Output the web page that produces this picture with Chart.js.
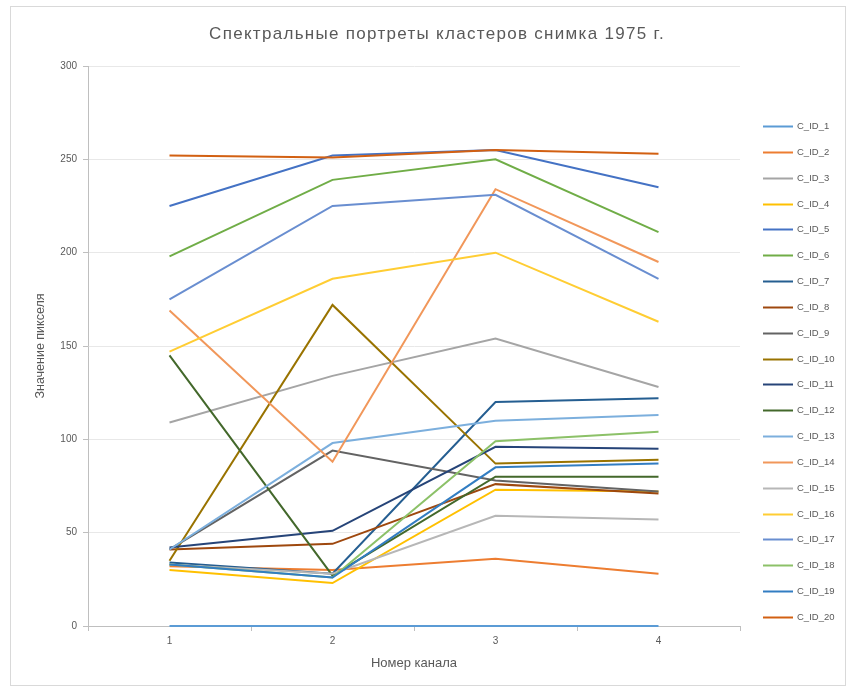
<!DOCTYPE html>
<html lang="ru">
<head>
<meta charset="utf-8">
<title>Спектральные портреты кластеров снимка 1975 г.</title>
<script src="https://cdn.jsdelivr.net/npm/chart.js@4/dist/chart.umd.min.js"></script>
<style>
  html, body { margin: 0; padding: 0; background: #ffffff; }
  #wrap { position: relative; width: 851px; height: 691px; }
</style>
</head>
<body>
<div id="wrap"><canvas id="chart" width="851" height="691"></canvas></div>
<script>
// Номера каналов и средние значения пикселей кластеров по каналам
const channels = ['1', '2', '3', '4'];
const yTicks = [0, 50, 100, 150, 200, 250, 300];

const C_ID_1  = [0, 0, 0, 0];
const C_ID_2  = [32, 30, 36, 28];
const C_ID_3  = [109, 134, 154, 128];
const C_ID_4  = [30, 23, 73, 72];
const C_ID_5  = [225, 252, 255, 235];
const C_ID_6  = [198, 239, 250, 211];
const C_ID_7  = [34, 28, 120, 122];
const C_ID_8  = [41, 44, 76, 71];
const C_ID_9  = [41, 94, 78, 72];
const C_ID_10 = [35, 172, 87, 89];
const C_ID_11 = [42, 51, 96, 95];
const C_ID_12 = [145, 27, 80, 80];
const C_ID_13 = [41, 98, 110, 113];
const C_ID_14 = [169, 88, 234, 195];
const C_ID_15 = [33, 28, 59, 57];
const C_ID_16 = [147, 186, 200, 163];
const C_ID_17 = [175, 225, 231, 186];
const C_ID_18 = [33, 26, 99, 104];
const C_ID_19 = [33, 26, 85, 87];
const C_ID_20 = [252, 251, 255, 253];

const seriesNames = ['C_ID_1','C_ID_2','C_ID_3','C_ID_4','C_ID_5','C_ID_6','C_ID_7','C_ID_8','C_ID_9','C_ID_10',
                     'C_ID_11','C_ID_12','C_ID_13','C_ID_14','C_ID_15','C_ID_16','C_ID_17','C_ID_18','C_ID_19','C_ID_20'];
const seriesValues = [C_ID_1, C_ID_2, C_ID_3, C_ID_4, C_ID_5, C_ID_6, C_ID_7, C_ID_8, C_ID_9, C_ID_10,
                      C_ID_11, C_ID_12, C_ID_13, C_ID_14, C_ID_15, C_ID_16, C_ID_17, C_ID_18, C_ID_19, C_ID_20];
const seriesColors = ['#5B9BD5','#ED7D31','#A5A5A5','#FFC000','#4472C4','#70AD47','#255E91','#9E480E','#636363','#997300',
                      '#264478','#43682B','#7CAFDD','#F1975A','#B7B7B7','#FFCD33','#698ED0','#8CC168','#327DC2','#D26012'];

const TEXT = '#595959';
const FONT = "'Liberation Sans', 'DejaVu Sans', sans-serif";

const datasets = seriesNames.map((name, i) => ({
  label: name,
  data: seriesValues[i],
  borderColor: seriesColors[i],
  backgroundColor: seriesColors[i],
  borderWidth: 2,
  pointRadius: 0,
  pointHoverRadius: 0,
  tension: 0,
  fill: false,
  clip: false,
  order: seriesNames.length - i   // later series are painted over earlier ones
}));

// Рамка, заголовок и легенда справа
const decorations = {
  id: 'decorations',
  beforeDraw(chart) {
    const ctx = chart.ctx;
    ctx.save();
    ctx.fillStyle = '#ffffff';
    ctx.fillRect(0, 0, chart.width, chart.height);
    ctx.strokeStyle = '#d9d9d9';
    ctx.lineWidth = 1;
    ctx.strokeRect(10.5, 6.5, chart.width - 16, chart.height - 12);
    ctx.restore();
  },
  afterDraw(chart) {
    const ctx = chart.ctx;
    ctx.save();
    ctx.fillStyle = TEXT;
    ctx.font = '17px ' + FONT;
    ctx.letterSpacing = '1.3px';
    ctx.textAlign = 'center';
    ctx.textBaseline = 'middle';
    ctx.fillText('Спектральные портреты кластеров снимка 1975 г.', 437, 34);

    // legend entries follow the dataset order
    ctx.letterSpacing = '0px';
    ctx.textAlign = 'left';
    ctx.font = '9.5px ' + FONT;
    const x0 = 763, x1 = 793, tx = 797, top = 126, step = 25.84;
    chart.data.datasets.forEach((ds, i) => {
      const y = Math.round(top + i * step) + 0.5;
      ctx.strokeStyle = ds.borderColor;
      ctx.lineWidth = 2;
      ctx.beginPath();
      ctx.moveTo(x0, y);
      ctx.lineTo(x1, y);
      ctx.stroke();
      ctx.fillStyle = TEXT;
      ctx.fillText(ds.label, tx, y);
    });
    ctx.restore();
  }
};

new Chart(document.getElementById('chart'), {
  type: 'line',
  data: { labels: channels, datasets },
  plugins: [decorations],
  options: {
    responsive: false,
    animation: false,
    events: [],
    layout: { padding: { top: 66, left: 33, right: 111, bottom: 20 } },
    plugins: {
      title: { display: false },
      tooltip: { enabled: false },
      legend: { display: false }
    },
    scales: {
      x: {
        type: 'category',
        offset: true,
        afterFit(scale) { scale.height = 45; },
        grid: {
          offset: true,
          drawOnChartArea: false,
          drawTicks: true,
          tickLength: 5,
          tickColor: '#bfbfbf'
        },
        border: { color: '#bfbfbf', width: 1 },
        ticks: { color: TEXT, font: { family: FONT, size: 10 }, padding: 4 },
        title: {
          display: true,
          text: 'Номер канала',
          color: TEXT,
          font: { family: FONT, size: 13 },
          padding: { top: 0, bottom: 0 }
        }
      },
      y: {
        min: 0,
        max: 300,
        afterFit(scale) { scale.width = 55; },
        afterBuildTicks(scale) { scale.ticks = yTicks.map(v => ({ value: v })); },
        grid: {
          color: '#e8e8e8',
          lineWidth: 1,
          drawTicks: true,
          tickLength: 5,
          tickColor: '#bfbfbf'
        },
        border: { color: '#bfbfbf', width: 1 },
        ticks: { color: TEXT, font: { family: FONT, size: 10 }, padding: 6 },
        title: {
          display: true,
          text: 'Значение пикселя',
          color: TEXT,
          font: { family: FONT, size: 12.5 },
          padding: { top: 0, bottom: 0 }
        }
      }
    }
  }
});
</script>
</body>
</html>
